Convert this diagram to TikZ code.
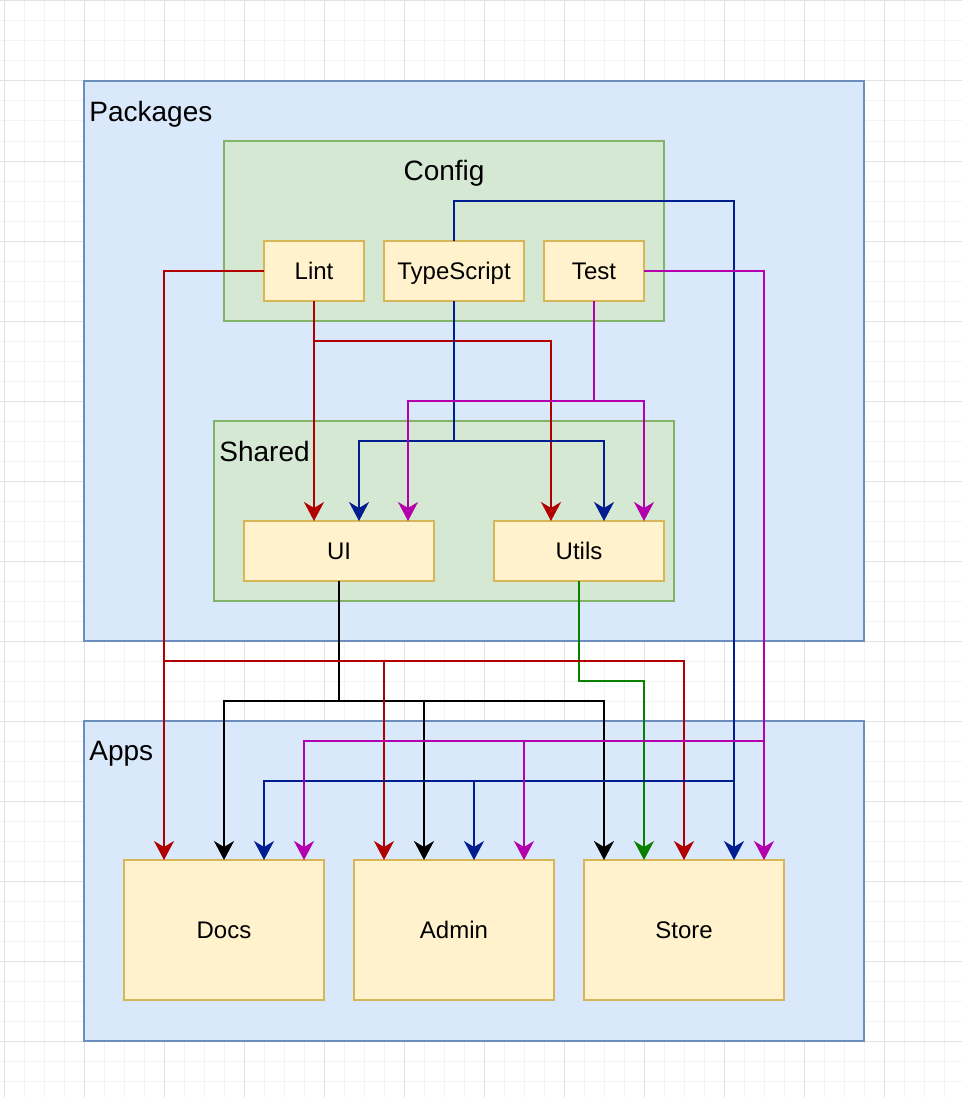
\documentclass[tikz,border=0pt]{standalone}
\usepackage{fontspec}
\setmainfont{Liberation Sans}
\usetikzlibrary{arrows.meta,calc}
\definecolor{pkgfill}{HTML}{DAE8FC}
\definecolor{pkgline}{HTML}{6C8EBF}
\definecolor{grnfill}{HTML}{D5E8D4}
\definecolor{grnline}{HTML}{82B366}
\definecolor{itemfill}{HTML}{FFF2CC}
\definecolor{itemline}{HTML}{D6B656}
\definecolor{cred}{HTML}{B20000}
\definecolor{cblue}{HTML}{001E8F}
\definecolor{cmag}{HTML}{B400AC}
\definecolor{cgreen}{HTML}{0A8000}
\definecolor{gridminor}{HTML}{F3F3F3}
\definecolor{gridmajor}{HTML}{E2E2E2}
\begin{document}
\begin{tikzpicture}[x=0.5pt,y=-0.5pt,
  box/.style={draw, rectangle, line width=1pt, inner sep=0pt, outer sep=0pt},
  bluecont/.style={box, fill=pkgfill, draw=pkgline},
  greencont/.style={box, fill=grnfill, draw=grnline},
  item/.style={box, fill=itemfill, draw=itemline, font=\fontsize{12}{14}\selectfont, text height=8.6pt, text depth=0pt, minimum height=30pt},
  title/.style={font=\fontsize{14}{17}\selectfont, inner sep=0pt, anchor=base west},
  conn/.style={line width=1pt, -{Stealth[length=9.5pt,width=10pt,inset=3pt]}},
  rd/.style={conn, draw=cred, color=cred},
  bl/.style={conn, draw=cblue, color=cblue},
  mg/.style={conn, draw=cmag, color=cmag},
  bk/.style={conn, draw=black, color=black},
  gn/.style={conn, draw=cgreen, color=cgreen},
  gmin/.style={draw=gridminor, line width=0.5pt},
  gmaj/.style={draw=gridmajor, line width=0.5pt}
]
\useasboundingbox (0,0) rectangle (962,1097);
\fill[white] (0,0) rectangle (962,1097);
% grid
\foreach \x in {4,24,...,964} \draw[gmin] (\x,0) -- (\x,1097);
\foreach \y in {1,21,...,1097} \draw[gmin] (0,\y) -- (962,\y);
\foreach \x in {4,84,...,964} \draw[gmaj] (\x,0) -- (\x,1097);
\foreach \y in {1,81,...,1097} \draw[gmaj] (0,\y) -- (962,\y);

% containers
\node[bluecont, minimum width=390pt, minimum height=280pt] (packages) at (474,361) {};
\node[bluecont, minimum width=390pt, minimum height=160pt] (apps) at (474,881) {};
\node[greencont, minimum width=220pt, minimum height=90pt] (config) at (444,231) {};
\node[greencont, minimum width=230pt, minimum height=90pt] (shared) at (444,511) {};

\node[title] (pkgt) at (89,121) {Packages};
\node[title] (appt) at (89,760) {Apps};
\node[title, anchor=base] (cfgt) at (444,180) {Config};
\node[title] (shrt) at (219,461) {Shared};

% items
\node[item, minimum width=50pt] (lint) at (314,271) {Lint};
\node[item, minimum width=70pt] (ts) at (454,271) {TypeScript};
\node[item, minimum width=50pt] (test) at (594,271) {Test};
\node[item, minimum width=95pt] (ui) at (339,551) {UI};
\node[item, minimum width=85pt] (utils) at (579,551) {Utils};
\node[item, minimum width=100pt, minimum height=70pt] (docs) at (224,930) {Docs};
\node[item, minimum width=100pt, minimum height=70pt] (admin) at (454,930) {Admin};
\node[item, minimum width=100pt, minimum height=70pt] (store) at (684,930) {Store};

% bend points
\coordinate (rA) at (164,661);
\coordinate (rB) at (314,341);
\coordinate (bA) at (734,201);
\coordinate (bB) at (734,781);
\coordinate (bC) at (454,441);
\coordinate (mA) at (764,741);
\coordinate (mB) at (594,401);
\coordinate (kA) at (339,701);
\coordinate (gA) at (579,681);

% black: UI -> apps
\draw[bk] (ui.south) -- (kA) -| (docs.north);
\draw[bk] (ui.south) -- (kA) -| ($(admin.north west)+(70,0)$);
\draw[bk] (ui.south) -- (kA) -| ($(store.north west)+(20,0)$);

% green: Utils -> Store
\draw[gn] (utils.south) -- (gA) -| ($(store.north west)+(60,0)$);

% red: Lint
\draw[rd] (lint.west) -| ($(docs.north west)+(40,0)$);
\draw[rd] (lint.west) -| (rA) -| ($(admin.north west)+(30,0)$);
\draw[rd] (lint.west) -| (rA) -| (store.north);
\draw[rd] (lint.south) -- (lint.south |- ui.north);
\draw[rd] (lint.south) -- (rB) -| ($(utils.north west)+(57,0)$);

% blue: TypeScript
\draw[bl] (ts.north) |- (bA) -- ($(store.north west)+(150,0)$);
\draw[bl] (ts.north) |- (bA) -- (bB) -| ($(docs.north west)+(140,0)$);
\draw[bl] (ts.north) |- (bA) -- (bB) -| ($(admin.north west)+(120,0)$);
\draw[bl] (ts.south) -- (bC) -| ($(ui.north west)+(115,0)$);
\draw[bl] (ts.south) -- (bC) -| ($(utils.north west)+(110,0)$);

% magenta: Test
\draw[mg] (test.east) -| ($(store.north west)+(180,0)$);
\draw[mg] (test.east) -| (mA) -| ($(docs.north west)+(180,0)$);
\draw[mg] (test.east) -| (mA) -| ($(admin.north west)+(170,0)$);
\draw[mg] (test.south) -- (mB) -| ($(ui.north west)+(164,0)$);
\draw[mg] (test.south) -- (mB) -| ($(utils.north west)+(150,0)$);
\end{tikzpicture}
\end{document}
